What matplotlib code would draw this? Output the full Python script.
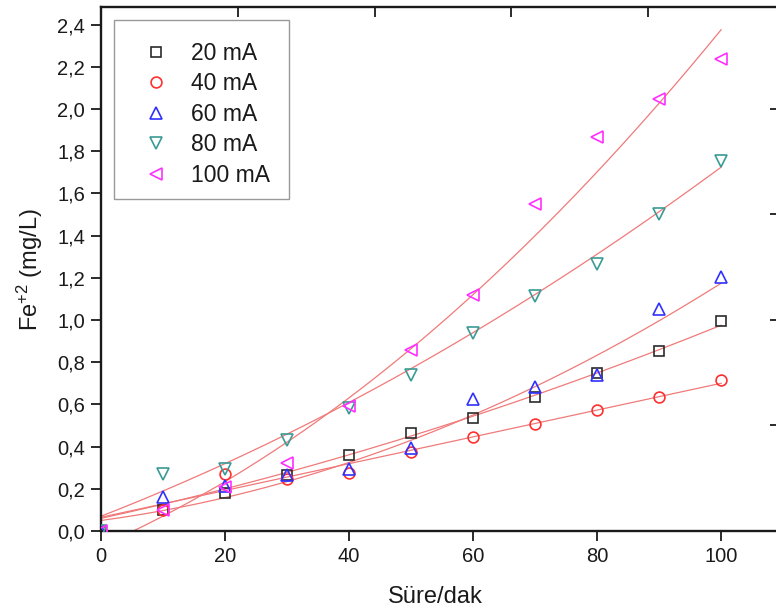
import numpy as np
import matplotlib
matplotlib.use("Agg")
import matplotlib.pyplot as plt
from matplotlib.patches import Rectangle

plt.rcParams['font.family'] = ['Liberation Sans', 'DejaVu Sans']
plt.rcParams['mathtext.fontset'] = 'custom'
plt.rcParams['mathtext.rm'] = 'Liberation Sans'
plt.rcParams['mathtext.it'] = 'Liberation Sans'

# ---- data ----
time_min = [0, 10, 20, 30, 40, 50, 60, 70, 80, 90, 100]
labels = ["20 mA", "40 mA", "60 mA", "80 mA", "100 mA"]
fe_20 = [0.0, 0.10, 0.18, 0.265, 0.36, 0.466, 0.535, 0.637, 0.747, 0.854, 0.993]
fe_40 = [0.0, 0.10, 0.269, 0.246, 0.273, 0.376, 0.445, 0.506, 0.575, 0.635, 0.716]
fe_60 = [0.0, 0.163, 0.213, 0.265, 0.294, 0.395, 0.624, 0.684, 0.739, 1.051, 1.202]
fe_80 = [0.0, 0.269, 0.292, 0.431, 0.581, 0.739, 0.938, 1.115, 1.264, 1.504, 1.755]
fe_100 = [0.0, 0.10, 0.21, 0.321, 0.592, 0.858, 1.118, 1.55, 1.869, 2.047, 2.235]

# quadratic fit coefficients (c2, c1, c0)
fit_20 = [0.000027, 0.00645, 0.06]
fit_40 = [0.0, 0.00635, 0.065]
fit_60 = [0.0000728, 0.00396, 0.05]
fit_80 = [0.000051, 0.01144, 0.07]
fit_100 = [0.0001154, 0.012915, -0.0703]

y_ticks = [0.0, 0.2, 0.4, 0.6, 0.8, 1.0, 1.2, 1.4, 1.6, 1.8, 2.0, 2.2, 2.4]
y_ticklabels = ["0,0", "0,2", "0,4", "0,6", "0,8", "1,0", "1,2", "1,4", "1,6", "1,8", "2,0", "2,2", "2,4"]
x_ticks = [0, 20, 40, 60, 80, 100]
top_ticks = [22.1, 44.2, 66.1, 88.2]
right_ticks = [0.5, 1.0, 1.5, 2.0]

series = [fe_20, fe_40, fe_60, fe_80, fe_100]
fits = [fit_20, fit_40, fit_60, fit_80, fit_100]
markers = ['s', 'o', '^', 'v', '<']
msizes = [7.2, 7.8, 9.0, 9.0, 9.0]
colors = ['#2b2b2b', '#ff3030', '#3030ff', '#3a9a95', '#ff30ff']
fit_color = '#f07a7a'
ink = '#1a1a1a'

W, H = 776, 615
fig = plt.figure(figsize=(W / 100, H / 100), dpi=100)
left_px, right_px, top_px, bottom_px = 101, 780, 7, 531
ax = fig.add_axes([left_px / W, (H - bottom_px) / H,
                   (right_px - left_px) / W, (bottom_px - top_px) / H])

xmax = 109.5
ymax = 2.483
ax.set_xlim(0, xmax)
ax.set_ylim(0, ymax)

xs = np.linspace(0, 100, 300)
for coef in fits:
    ax.plot(xs, np.polyval(coef, xs), color=fit_color, lw=0.9, zorder=2)

for ys, lab, m, ms, c in zip(series, labels, markers, msizes, colors):
    ax.plot(time_min, ys, linestyle='none', marker=m, markersize=ms,
            markerfacecolor='none', markeredgecolor=c, markeredgewidth=1.2,
            label=lab, zorder=3)

ax.set_xticks(x_ticks)
ax.set_xticklabels([str(v) for v in x_ticks])
ax.set_yticks(y_ticks)
ax.set_yticklabels(y_ticklabels)
ax.tick_params(axis='both', direction='out', length=7.5, width=1.3,
               labelsize=14.5, colors=ink, pad=4)
ax.tick_params(top=False, right=False)

for sp in ax.spines.values():
    sp.set_linewidth(1.7)
    sp.set_color(ink)

# secondary tick marks on top and right
axt = ax.twiny()
axt.set_xlim(0, xmax)
axt.set_xticks(top_ticks)
axt.set_xticklabels([])
axt.tick_params(axis='x', direction='in', length=7.5, width=1.3, colors=ink)
axr = ax.twinx()
axr.set_ylim(0, ymax)
axr.set_yticks(right_ticks)
axr.set_yticklabels([])
axr.tick_params(axis='y', direction='in', length=7.5, width=1.3, colors=ink)
for a in (axt, axr):
    for sp in a.spines.values():
        sp.set_visible(False)

ax.set_xlabel("Süre/dak", fontsize=17, color=ink)
ax.xaxis.set_label_coords(0.493, -0.105)
ax.set_ylabel(r"Fe$^{\mathregular{+2}}$ (mg/L)", fontsize=17, color=ink)
ax.yaxis.set_label_coords(-0.082, 0.498)

leg = ax.legend(loc='upper left', bbox_to_anchor=((114 - left_px) / (right_px - left_px),
                                                  (bottom_px - 21) / (bottom_px - top_px)),
                borderaxespad=0, fontsize=16.5, frameon=False,
                handlelength=1.9, handletextpad=0.55,
                borderpad=0.9, labelspacing=0.33, numpoints=1)
for t in leg.get_texts():
    t.set_color(ink)
leg.set_zorder(10)

# legend frame box (pixel geometry of the reference)
frame = Rectangle((114 / W, (H - 199) / H), (289 - 114) / W, (199 - 20) / H,
                  transform=fig.transFigure, facecolor='white', edgecolor='#999999',
                  linewidth=1.0, zorder=9)
ax.add_patch(frame)
frame.set_clip_on(False)

fig.savefig("out.png", dpi=100)
